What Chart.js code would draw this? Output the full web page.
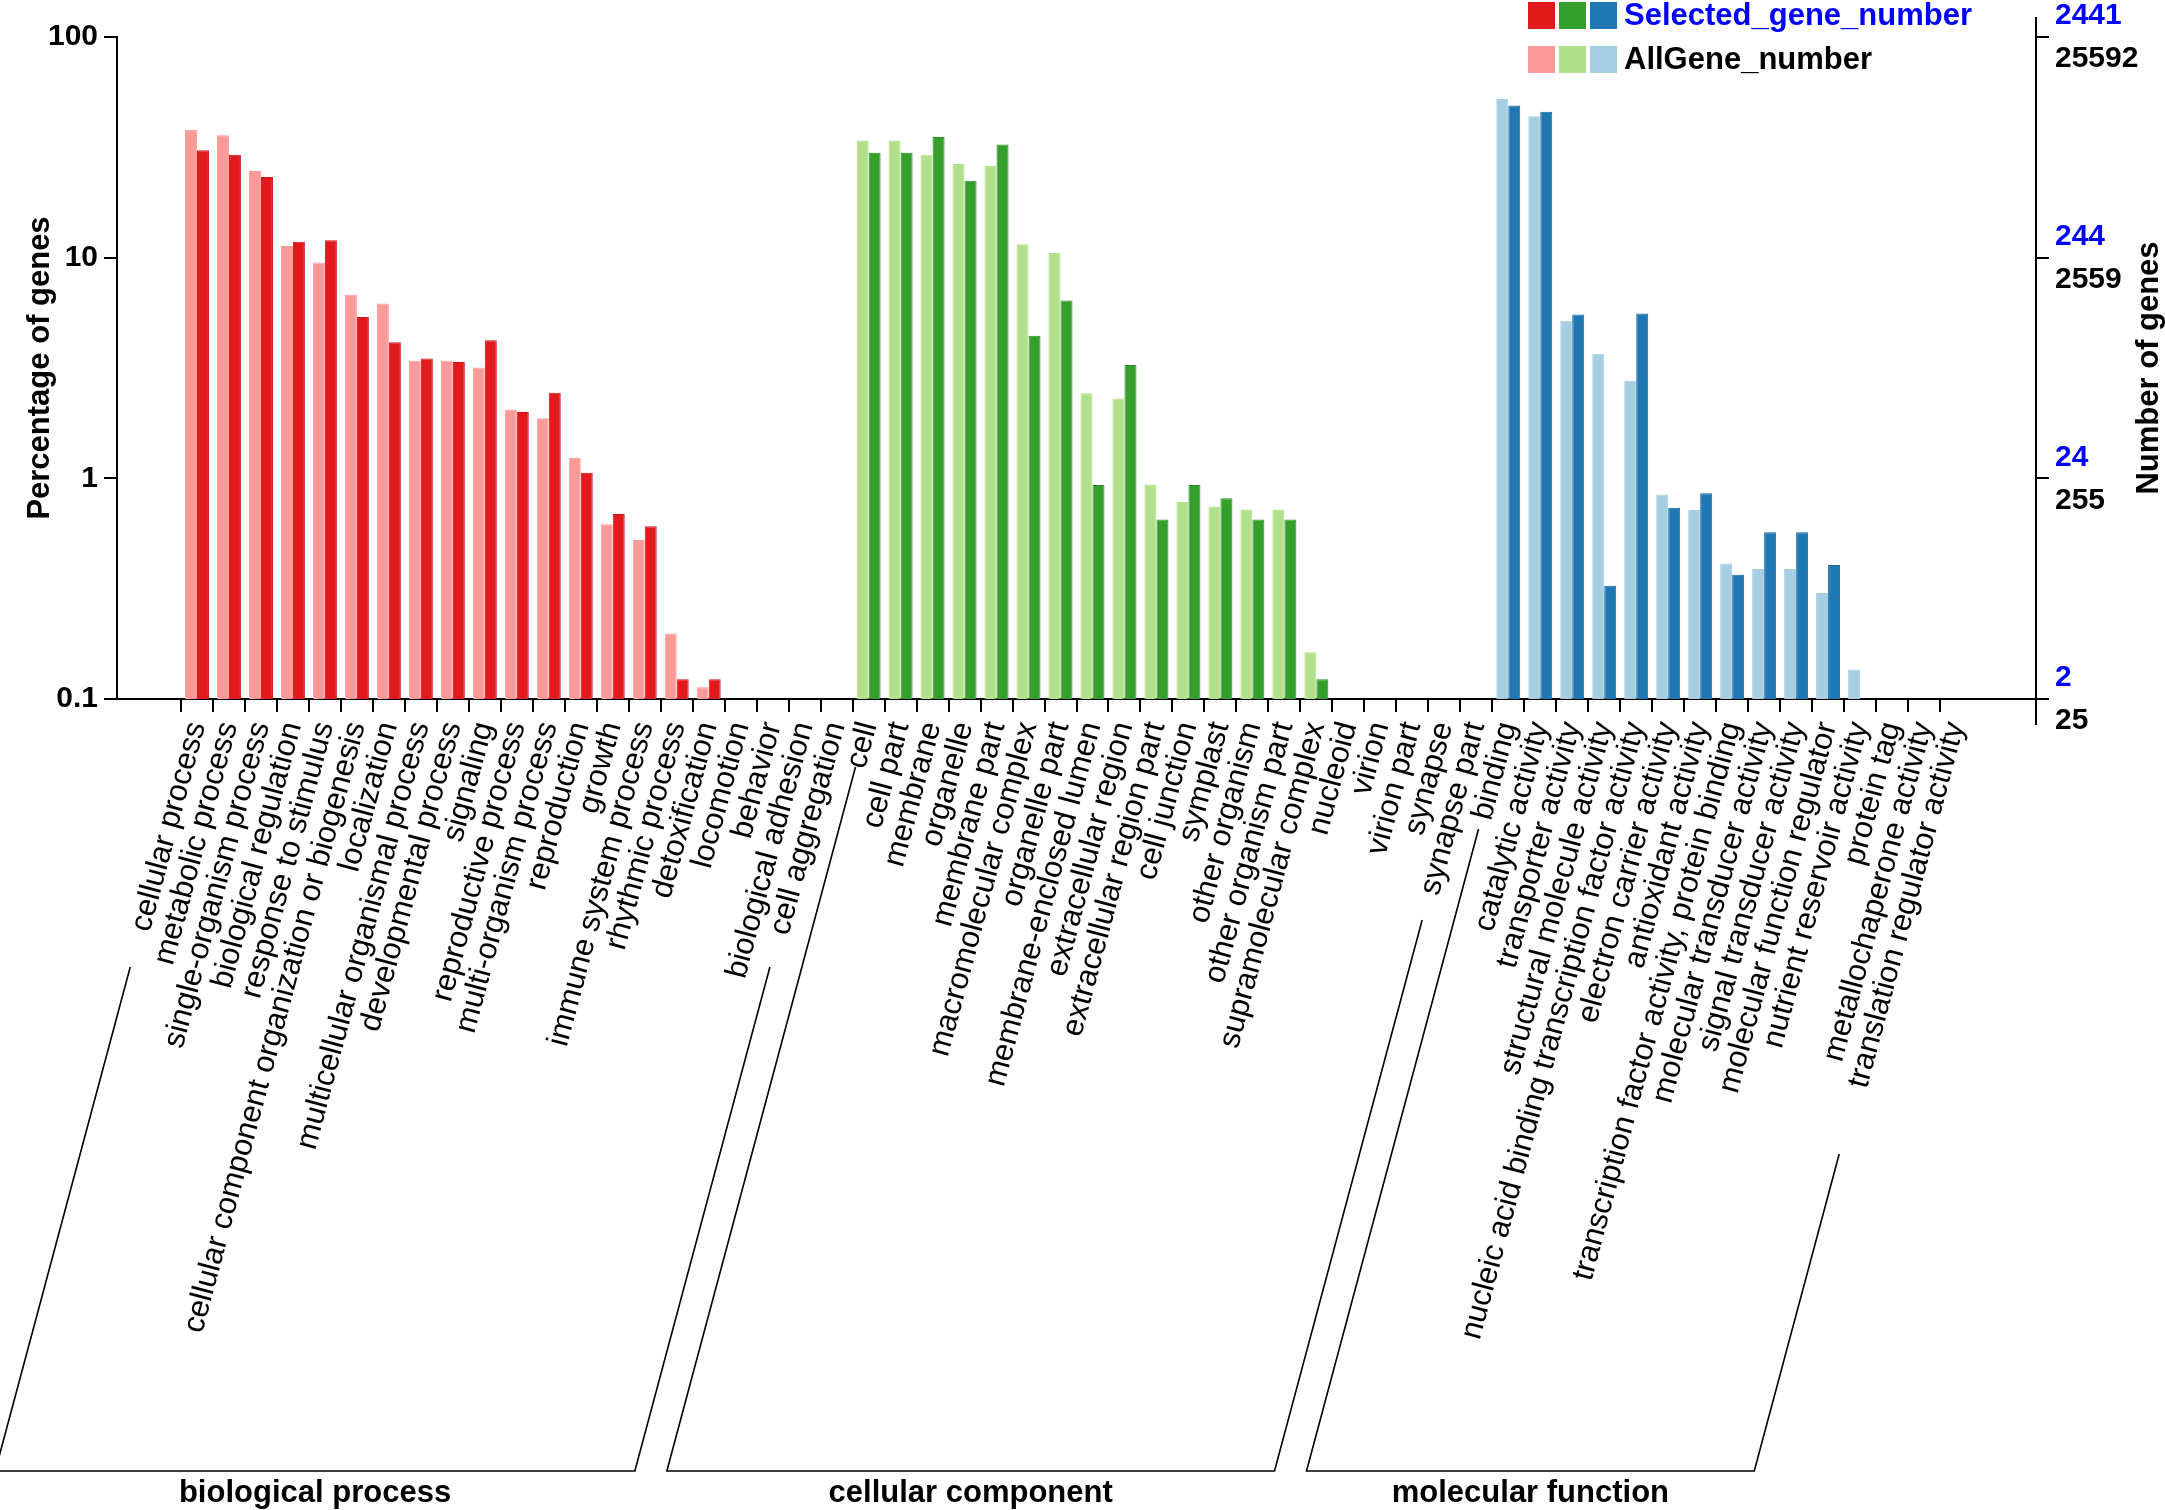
<!DOCTYPE html>
<html>
<head>
<meta charset="utf-8">
<script src="https://cdn.jsdelivr.net/npm/chart.js@4"></script>
<style>
  html, body { margin: 0; padding: 0; background: #fff; }
  #wrap { width: 2165px; height: 1510px; position: relative; }
</style>
</head>
<body>
<div id="wrap"><canvas id="c"></canvas></div>
<script>
// ---------------- DATA ----------------
const groups = ['biological process', 'cellular component', 'molecular function'];
const groupSizes = [21, 20, 15];

const categories = [
  // biological process
  'cellular process', 'metabolic process', 'single-organism process', 'biological regulation',
  'response to stimulus', 'cellular component organization or biogenesis', 'localization',
  'multicellular organismal process', 'developmental process', 'signaling', 'reproductive process',
  'multi-organism process', 'reproduction', 'growth', 'immune system process', 'rhythmic process',
  'detoxification', 'locomotion', 'behavior', 'biological adhesion', 'cell aggregation',
  // cellular component
  'cell', 'cell part', 'membrane', 'organelle', 'membrane part', 'macromolecular complex',
  'organelle part', 'membrane-enclosed lumen', 'extracellular region', 'extracellular region part',
  'cell junction', 'symplast', 'other organism', 'other organism part', 'supramolecular complex',
  'nucleoid', 'virion', 'virion part', 'synapse', 'synapse part',
  // molecular function
  'binding', 'catalytic activity', 'transporter activity', 'structural molecule activity',
  'nucleic acid binding transcription factor activity', 'electron carrier activity',
  'antioxidant activity', 'transcription factor activity, protein binding',
  'molecular transducer activity', 'signal transducer activity', 'molecular function regulator',
  'nutrient reservoir activity', 'protein tag', 'metallochaperone activity',
  'translation regulator activity'
];

// Percentage of genes (AllGene_number, light bars)
const allGenePct = [
  38.0, 35.9, 24.7, 11.3, 9.5, 6.8, 6.2, 3.41, 3.41, 3.18, 2.05, 1.87, 1.24, 0.62, 0.525, 0.198, 0.113, null, null, null, null,
  34.0, 34.0, 29.3, 26.6, 26.1, 11.5, 10.5, 2.43, 2.30, 0.938, 0.781, 0.745, 0.723, 0.723, 0.163, null, null, null, null, null,
  52.3, 43.7, 5.18, 3.67, 2.77, 0.844, 0.718, 0.411, 0.388, 0.388, 0.302, 0.136, null, null, null
];
// Percentage of genes (Selected_gene_number, dark bars)
const selectedPct = [
  30.7, 29.3, 23.2, 11.8, 12.0, 5.39, 4.14, 3.49, 3.37, 4.22, 2.0, 2.44, 1.06, 0.69, 0.607, 0.123, 0.123, null, null, null, null,
  29.9, 29.9, 35.2, 22.3, 32.6, 4.43, 6.39, 0.934, 3.26, 0.65, 0.934, 0.812, 0.65, 0.65, 0.123, null, null, null, null, null,
  48.9, 45.9, 5.52, 0.326, 5.59, 0.735, 0.855, 0.366, 0.569, 0.569, 0.405, null, null, null, null
];

const pctTicks = [0.1, 1, 10, 100];
const selectedTicks = ['2', '24', '244', '2441'];
const allGeneTicks = ['25', '255', '2559', '25592'];

const lightColors = ['#FB9A99', '#B2DF8A', '#A6CEE3'];
const darkColors = ['#E31A1C', '#33A02C', '#1F78B4'];
const darkBorders = ['#C9151A', '#2A8C25', '#1A68A0'];

// ---------------- BUILD ----------------
const PAD = 2;
const N = categories.length;
const groupOf = [];
groupSizes.forEach((n, g) => { for (let i = 0; i < n; i++) groupOf.push(g); });
const padArr = () => new Array(PAD).fill(null);
const labels = [...new Array(PAD).fill(''), ...categories, ...new Array(PAD).fill('')];
const pad = a => [...padArr(), ...a, ...padArr()];
const colorsFor = pal => pad(groupOf.map(g => pal[g]));

const FONT = '"Liberation Sans", Arial, Helvetica, sans-serif';
Chart.defaults.font.family = FONT;
Chart.defaults.color = '#000';

const bracketTops = [[967, 967], [767, 920], [829, 1154]];

const deco = {
  id: 'deco',
  afterDraw(chart) {
    const ctx = chart.ctx;
    const xs = chart.scales.x, y2 = chart.scales.y2;
    ctx.save();
    // right axis line extension
    ctx.strokeStyle = '#000';
    ctx.lineWidth = 2;
    ctx.beginPath();
    ctx.moveTo(y2.left, 17);
    ctx.lineTo(y2.left, 725);
    ctx.stroke();
    // blue selected-gene tick labels
    ctx.font = 'bold 30px ' + FONT;
    ctx.fillStyle = '#0000FF';
    ctx.textAlign = 'left';
    ctx.textBaseline = 'middle';
    pctTicks.forEach((v, i) => {
      ctx.fillText(selectedTicks[i], y2.left + 19, y2.getPixelForValue(v) - 21);
    });
    // right title
    ctx.save();
    ctx.translate(2149, (chart.chartArea.top + chart.chartArea.bottom) / 2);
    ctx.rotate(-Math.PI / 2);
    ctx.font = 'bold 31px ' + FONT;
    ctx.fillStyle = '#000';
    ctx.textAlign = 'center';
    ctx.textBaseline = 'middle';
    ctx.fillText('Number of genes', 0, 0);
    ctx.restore();
    // legend
    const lx = [1528, 1559, 1590], sz = 27;
    darkColors.forEach((c, i) => { ctx.fillStyle = c; ctx.fillRect(lx[i], 2, sz, sz); });
    lightColors.forEach((c, i) => { ctx.fillStyle = c; ctx.fillRect(lx[i], 46, sz, sz); });
    ctx.font = 'bold 31px ' + FONT;
    ctx.textAlign = 'left';
    ctx.textBaseline = 'middle';
    ctx.fillStyle = '#0000FF';
    ctx.fillText('Selected_gene_number', 1624, 16);
    ctx.fillStyle = '#000';
    ctx.fillText('AllGene_number', 1624, 60);
    // group brackets
    const cot = 1 / Math.tan(75 * Math.PI / 180);
    const anchorY = xs.top + 19;
    const baseY = 1471;
    ctx.lineWidth = 1.6;
    ctx.strokeStyle = '#000';
    ctx.textAlign = 'center';
    ctx.textBaseline = 'alphabetic';
    let start = 0;
    groups.forEach((g, gi) => {
      const first = start, last = start + groupSizes[gi] - 1;
      const c1 = xs.getPixelForValue(first + PAD), c2 = xs.getPixelForValue(last + PAD);
      const [t1, t2] = bracketTops[gi];
      const b1 = c1 - (baseY - anchorY) * cot, b2 = c2 - (baseY - anchorY) * cot;
      ctx.beginPath();
      ctx.moveTo(c1 - (t1 - anchorY) * cot, t1);
      ctx.lineTo(b1, baseY);
      ctx.lineTo(b2, baseY);
      ctx.lineTo(c2 - (t2 - anchorY) * cot, t2);
      ctx.stroke();
      ctx.fillStyle = '#000';
      ctx.fillText(g, (b1 + b2) / 2, 1502);
      start += groupSizes[gi];
    });
    ctx.restore();
  }
};

const axisGrid = { drawOnChartArea: false, drawTicks: true, tickLength: 13, color: '#000', lineWidth: 2 };
const axisBorder = { display: true, color: '#000', width: 2 };

new Chart(document.getElementById('c'), {
  type: 'bar',
  data: {
    labels: labels,
    datasets: [
      {
        label: 'AllGene_number',
        data: pad(allGenePct),
        backgroundColor: colorsFor(lightColors),
        borderColor: colorsFor(lightColors),
        borderWidth: 1,
        categoryPercentage: 0.75,
        barPercentage: 1.0,
        yAxisID: 'y'
      },
      {
        label: 'Selected_gene_number',
        data: pad(selectedPct),
        backgroundColor: colorsFor(darkColors),
        borderColor: colorsFor(darkBorders),
        borderWidth: 1,
        categoryPercentage: 0.75,
        barPercentage: 1.0,
        yAxisID: 'y'
      }
    ]
  },
  options: {
    responsive: true,
    maintainAspectRatio: false,
    animation: false,
    layout: { padding: { top: 37, left: 0, right: 0, bottom: 0 } },
    plugins: { legend: { display: false }, tooltip: { enabled: false } },
    scales: {
      x: {
        type: 'category',
        offset: true,
        afterFit: s => { s.height = 811; },
        ticks: { autoSkip: false, maxRotation: 75, minRotation: 75, font: { size: 31 }, color: '#000', padding: 6 },
        grid: {
          offset: true, drawOnChartArea: false, drawTicks: true, tickLength: 13, lineWidth: 2,
          color: c => (c.index >= PAD && c.index < PAD + N) ? '#000' : 'rgba(0,0,0,0)'
        },
        border: axisBorder
      },
      y: {
        type: 'logarithmic',
        position: 'left',
        min: 0.1, max: 100,
        afterBuildTicks: s => { s.ticks = pctTicks.map(v => ({ value: v })); },
        afterFit: s => { s.width = 117; },
        ticks: { callback: v => String(v), font: { size: 30, weight: 'bold' }, color: '#000', padding: 6 },
        grid: axisGrid,
        border: axisBorder,
        title: { display: true, text: 'Percentage of genes', font: { size: 31, weight: 'bold' }, color: '#000', padding: { top: 22, bottom: 0 } }
      },
      y2: {
        type: 'logarithmic',
        position: 'right',
        min: 0.1, max: 100,
        afterBuildTicks: s => { s.ticks = pctTicks.map(v => ({ value: v })); },
        afterFit: s => { s.width = 129; },
        ticks: { callback: (v, i) => allGeneTicks[i], labelOffset: 22, font: { size: 30, weight: 'bold' }, color: '#000', padding: 6 },
        grid: axisGrid,
        border: axisBorder
      }
    }
  },
  plugins: [deco]
});
</script>
</body>
</html>
